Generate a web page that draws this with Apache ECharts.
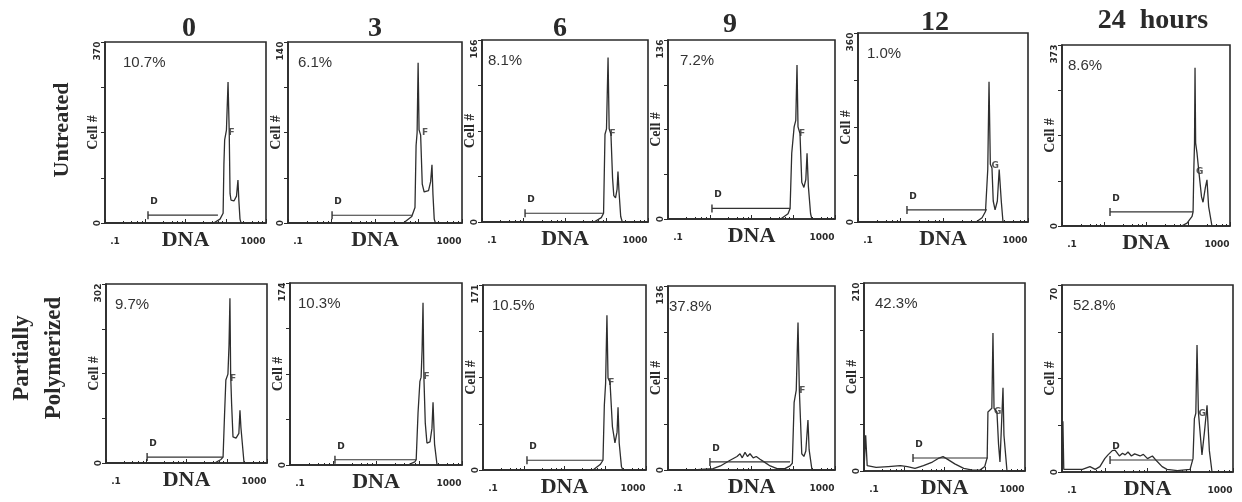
<!DOCTYPE html>
<html>
<head>
<meta charset="utf-8">
<script src="https://cdn.jsdelivr.net/npm/echarts@6/dist/echarts.min.js"></script>
<style>
html,body{margin:0;padding:0;background:#fff}
#chart{width:1242px;height:502px}
</style>
</head>
<body>
<div id="chart"></div>
<script>
// column / row headings
var hours = ['0', '3', '6', '9', '12', '24  hours'];
var rowNames = ['Untreated', 'Partially\nPolymerized'];

// panel order: untreated 0..24h, then partially polymerized 0..24h
var yMax = [370, 140, 166, 136, 360, 373, 302, 174, 171, 136, 210, 70];
var pctD = ['10.7%', '6.1%', '8.1%', '7.2%', '1.0%', '8.6%', '9.7%', '10.3%', '10.5%', '37.8%', '42.3%', '52.8%'];
var phaseName = ['F', 'F', 'F', 'F', 'G', 'G', 'F', 'F', 'F', 'F', 'G', 'G'];
// where the F / G marker sits  [DNA, cells]
var phaseAt = [[140, 184], [141, 70], [140, 81], [162, 65], [168, 108], [190, 111],
               [143, 143], [150, 84], [141, 81], [166, 59], [210, 66], [190, 22]];
// D gate  [from DNA, to DNA, cells]
var gateD = [[1.17, 64, 16], [1.03, 71, 6], [1.09, 82, 8], [1.13, 84, 8], [1.42, 108, 23], [1.39, 132, 29],
             [1.05, 81, 10], [1.11, 86, 5], [1.2, 88, 9], [1.01, 84, 6], [1.65, 120, 14.5], [1.33, 116, 4.5]];

// histograms  [DNA, cell #]
var untreated0 = [[0.1,0],[50,0],[72,8],[86,20],[90,120],[94,170],[104,190],[114,288],[122,186],[128,60],[135,47],[160,45],[185,55],[201,88],[212,45],[226,8],[240,0],[1000,0]];
var untreated3 = [[0.1,0],[45,0],[70,5],[83,12],[88,60],[93,70],[98,124],[103,72],[112,68],[122,30],[135,24],[170,25],[190,32],[204,45],[215,22],[230,3],[245,0],[1000,0]];
var untreated6 = [[0.1,0],[50,0],[75,4],[85,8],[92,80],[100,85],[109,150],[116,85],[128,80],[140,40],[150,24],[165,22],[180,30],[189,46],[200,28],[220,5],[240,0],[1000,0]];
var untreated9 = [[0.1,0],[50,0],[75,4],[84,8],[92,50],[105,70],[115,75],[123,117],[130,70],[145,65],[160,28],[180,24],[200,30],[214,50],[230,25],[260,4],[280,0],[1000,0]];
var untreated12 = [[0.1,0],[60,0],[83,8],[100,20],[108,23],[113,100],[121,267],[130,110],[142,103],[152,40],[168,23],[190,40],[210,100],[219,103],[235,40],[258,0],[1000,0]];
var untreated24 = [[0.1,0],[70,0],[95,6],[125,20],[132,29],[138,120],[143,171],[147,326],[152,171],[164,150],[180,115],[193,111],[210,60],[228,49],[260,80],[283,95],[310,40],[372,0],[1000,0]];
var polymer0 = [[0.1,0],[50,0],[72,6],[81,10],[88,80],[95,140],[107,150],[114,200],[120,278],[125,150],[132,100],[143,44],[170,42],[200,50],[213,89],[225,60],[269,0],[1000,0]];
var polymer3 = [[0.1,0],[55,0],[80,3],[86,5],[95,50],[105,80],[112,84],[118,110],[124,155],[130,84],[140,40],[153,21],[180,22],[200,35],[212,60],[230,20],[263,0],[1000,0]];
var polymer6 = [[0.1,0],[50,0],[75,5],[88,9],[95,60],[102,80],[110,143],[117,85],[131,81],[150,40],[173,25],[195,35],[206,58],[220,25],[250,3],[273,0],[1000,0]];
var polymer9 = [[0.1,0],[0.4,0],[1.2,1],[1.8,3],[3,7],[4.5,10],[5.3,12],[6,9],[7,13],[8,10],[9.2,12],[11,9],[13,10],[16,8],[20,6],[28,3],[41,1],[63,1],[84,3],[95,5],[105,50],[118,59],[130,109],[140,59],[160,12],[180,10],[200,14],[225,37],[240,15],[281,0],[1000,0]];
var polymer12 = [[0.1,2],[0.11,40],[0.12,6],[0.2,4],[0.4,5],[0.8,6],[1.2,5],[1.85,3],[3,6],[5,10],[7,14],[9.2,16],[12,13],[18,8],[30,3],[50,1],[76,1],[100,5],[115,15],[120,66],[150,70],[160,154],[170,70],[201,66],[220,30],[239,10],[260,50],[284,93],[300,40],[357,0],[1000,0]];
var polymer24 = [[0.1,0],[0.105,19],[0.11,1],[0.3,1],[0.45,2],[0.6,1],[0.77,2],[1,5],[1.19,6.4],[1.5,8],[1.74,8.2],[2.2,6],[2.6,7],[3,6.4],[3.5,7.5],[4.2,6],[5,6.8],[6.7,6],[8,6.6],[10,5],[13,6],[16.7,4],[22,2],[28.6,1],[50,0.5],[99,1],[116,5],[125,20],[135,22],[144,47.5],[155,22.5],[169,22],[188,6.4],[215,15],[247,25],[280,8],[323,0],[1000,0]];
var histograms = [untreated0, untreated3, untreated6, untreated9, untreated12, untreated24,
                  polymer0, polymer3, polymer6, polymer9, polymer12, polymer24];

// layout: panel boxes [left, top, right, bottom] in px
var boxes = [[105,42,266,223],[288,42,462,223],[482,40,648,222],[668,40,835,219],[858,33,1028,222],[1062,45,1230,226],
             [106,284,267,463],[290,283,462,465],[483,285,646,470],[668,286,835,470],[864,283,1025,471],[1062,285,1233,472]];
var titleX = [189, 375, 560, 730, 935, 1153];
var titleY = [29, 29, 29, 25, 23, 21];
var pctOffset = [18, 10, 6, 12, 9, 6, 9, 8, 9, 1, 11, 11];

var ink = '#2a2a2a';
var myChart = echarts.init(document.getElementById('chart'));
var grid = [], xAxis = [], yAxis = [], series = [], graphic = [];

boxes.forEach(function (b, i) {
    var m = yMax[i];
    grid.push({
        left: b[0], top: b[1], width: b[2] - b[0], height: b[3] - b[1],
        show: true, borderColor: ink, borderWidth: 1.6, outerBoundsMode: 'none'
    });
    xAxis.push({
        type: 'log', logBase: 10, gridIndex: i, min: 0.1, max: 1000,
        axisLine: {lineStyle: {color: ink, width: 1.6}},
        axisTick: {inside: true, length: 4, lineStyle: {color: ink}},
        minorTick: {show: true, splitNumber: 5, length: 2, lineStyle: {color: ink}},
        splitLine: {show: false},
        axisLabel: {
            interval: 0, showMinLabel: true, showMaxLabel: true, margin: 14,
            formatter: function (v) {
                if (Math.abs(v - 0.1) < 1e-6) return '{a|.1}';
                if (Math.abs(v - 1000) < 1e-3) return '{b|1000}';
                return '';
            },
            rich: {
                a: {padding: [0, 0, 0, 20], fontFamily: 'DejaVu Sans', fontWeight: 'bold', fontSize: 9, color: ink},
                b: {padding: [0, 26, 0, 0], fontFamily: 'DejaVu Sans', fontWeight: 'bold', fontSize: 9, color: ink}
            }
        },
        name: 'DNA', nameLocation: 'middle', nameGap: 6, nameMoveOverlap: false,
        nameTextStyle: {fontFamily: 'Liberation Serif', fontWeight: 'bold', fontSize: 22, color: ink}
    });
    yAxis.push({
        type: 'value', gridIndex: i, min: 0, max: m, interval: m / 4,
        axisLine: {lineStyle: {color: ink, width: 1.6}},
        axisTick: {show: true, inside: false, length: 4, lineStyle: {color: ink}},
        splitLine: {show: false},
        axisLabel: {
            rotate: 90, margin: 3,
            formatter: function (v) {
                if (v === 0) return '{z|0}';
                if (Math.abs(v - m) < 1e-6) return '{t|' + m + '}';
                return '';
            },
            rich: {
                z: {fontFamily: 'DejaVu Sans', fontWeight: 'bold', fontSize: 9, color: ink},
                t: {padding: [0, 18, 0, 0], fontFamily: 'DejaVu Sans', fontWeight: 'bold', fontSize: 9, color: ink}
            }
        },
        name: 'Cell #', nameLocation: 'middle', nameGap: 5, nameRotate: 90, nameMoveOverlap: false,
        nameTextStyle: {fontFamily: 'Liberation Serif', fontWeight: 'bold', fontSize: 14, color: ink}
    });

    series.push({
        type: 'line', xAxisIndex: i, yAxisIndex: i, data: histograms[i],
        symbol: 'none', silent: true, animation: false,
        lineStyle: {color: '#2e2e2e', width: 1.3}
    });
    var g = gateD[i];
    series.push({
        type: 'line', xAxisIndex: i, yAxisIndex: i, silent: true, animation: false,
        symbol: 'none', lineStyle: {color: '#333', width: 1.2}, itemStyle: {color: '#333'},
        data: [
            {value: [g[0], g[2]], symbol: 'rect', symbolSize: [1.4, 8],
             label: {show: true, formatter: 'D', position: 'top', offset: [6, 0],
                     fontFamily: 'DejaVu Sans', fontWeight: 'bold', fontSize: 9, color: ink}},
            {value: [g[1], g[2]], symbol: 'none'}
        ]
    });
    series.push({
        type: 'scatter', xAxisIndex: i, yAxisIndex: i, silent: true, animation: false,
        symbolSize: 0,
        data: [{value: phaseAt[i]}],
        label: {show: true, position: 'inside', formatter: phaseName[i],
                fontFamily: 'DejaVu Sans', fontWeight: 'bold', fontSize: 9, color: ink}
    });

    graphic.push({
        type: 'text', left: b[0] + pctOffset[i], top: b[1] + 13,
        style: {text: pctD[i], font: '15px "Liberation Sans"', fill: '#333'}
    });
});

hours.forEach(function (h, c) {
    graphic.push({
        type: 'text', x: titleX[c], y: titleY[c],
        style: {text: h, font: 'bold 28px "Liberation Serif"', fill: ink, align: 'center', verticalAlign: 'middle'}
    });
});
graphic.push({
    type: 'text', x: 62, y: 130, rotation: Math.PI / 2,
    style: {text: rowNames[0], font: 'bold 22px "Liberation Serif"', fill: ink, align: 'center', verticalAlign: 'middle'}
});
graphic.push({
    type: 'text', x: 38, y: 358, rotation: Math.PI / 2,
    style: {text: rowNames[1], font: 'bold 23px "Liberation Serif"', lineHeight: 32, fill: ink, align: 'center', verticalAlign: 'middle'}
});

var option = {
    backgroundColor: '#fff',
    animation: false,
    grid: grid,
    xAxis: xAxis,
    yAxis: yAxis,
    series: series,
    graphic: graphic
};
myChart.setOption(option);
</script>
</body>
</html>
